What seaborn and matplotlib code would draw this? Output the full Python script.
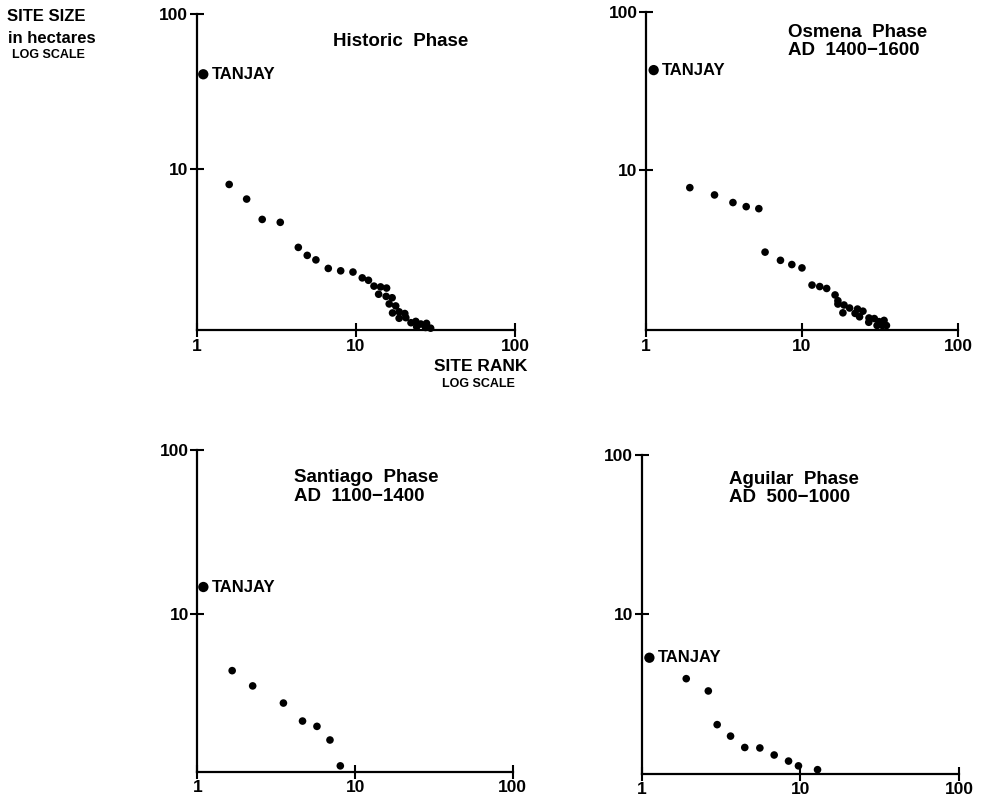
import numpy as np
import pandas as pd
import matplotlib
matplotlib.use("Agg")
import matplotlib.pyplot as plt
import seaborn as sns

# rank-size values (site rank, site size in ha)
hist_rank = [1.60, 2.06, 2.58, 3.35, 4.35, 4.95, 5.61, 6.71, 8.03, 9.59, 10.97,
             12.0, 13.0, 14.3, 15.6, 13.9, 15.5, 16.9, 16.2, 17.8, 17.0, 18.7,
             20.3, 18.7, 20.6, 22.2, 23.8, 25.6, 27.8, 24.1, 27.4, 29.5]
hist_size = [7.97, 6.42, 4.75, 4.55, 3.14, 2.79, 2.61, 2.30, 2.22, 2.18, 2.00,
             1.93, 1.77, 1.75, 1.72, 1.57, 1.52, 1.49, 1.36, 1.32, 1.19, 1.21,
             1.18, 1.10, 1.11, 1.03, 1.05, 1.01, 1.02, 0.97, 0.96, 0.95]

osm_rank = [1.91, 2.75, 3.61, 4.39, 5.29, 5.80, 7.28, 8.61, 10.0, 11.6, 13.0,
            14.4, 16.3, 17.0, 17.0, 18.6, 20.2, 18.3, 22.7, 21.9, 24.6, 23.4,
            26.9, 26.8, 29.1, 31.2, 33.6, 30.3, 32.8, 34.8]
osm_size = [7.72, 6.94, 6.21, 5.85, 5.68, 3.01, 2.67, 2.51, 2.39, 1.86, 1.82,
            1.77, 1.61, 1.48, 1.41, 1.39, 1.33, 1.24, 1.31, 1.23, 1.27, 1.17,
            1.15, 1.08, 1.14, 1.09, 1.11, 1.03, 1.03, 1.03]

sant_rank = [1.66, 2.24, 3.51, 4.64, 5.73, 6.93, 8.06]
sant_size = [4.52, 3.65, 2.87, 2.23, 2.07, 1.71, 1.19]

agu_rank = [1.91, 2.63, 2.99, 3.63, 4.46, 5.55, 6.83, 8.41, 9.71, 12.8]
agu_size = [3.94, 3.30, 2.03, 1.72, 1.46, 1.45, 1.31, 1.20, 1.12, 1.06]

# the primate centre, rank 1 (drawn just off the axis)
tanjay_rank = [1.10, 1.12, 1.09, 1.12]
tanjay_size = [40.7, 43.0, 14.6, 5.33]

titles = ["Historic  Phase", "Osmena  Phase\nAD  1400\u22121600",
          "Santiago  Phase\nAD  1100\u22121400", "Aguilar  Phase\nAD  500\u22121000"]

sns.set_style("ticks")
plt.rcParams["font.family"] = ["Liberation Sans", "DejaVu Sans"]
plt.rcParams["font.weight"] = "bold"
for key in ["text.color", "axes.labelcolor", "xtick.color", "ytick.color",
            "axes.edgecolor"]:
    plt.rcParams[key] = "black"

fig = plt.figure(figsize=(9.81, 7.96), dpi=100)

# axes boxes, title spots and lower y limit for each panel
rects = [[0.2005, 0.585, 0.3245, 0.398],
         [0.6585, 0.585, 0.3180, 0.3995],
         [0.2013, 0.030, 0.3213, 0.405],
         [0.6540, 0.028, 0.3240, 0.401]]
ybottom = [0.92, 0.96, 1.09, 1.0]
title_xy = [(0.642, 0.937), (0.456, 0.964), (0.307, 0.939), (0.276, 0.949)]
title_ha = ["center", "left", "left", "left"]

panels = [(hist_rank, hist_size), (osm_rank, osm_size),
          (sant_rank, sant_size), (agu_rank, agu_size)]

for i, (rank, size) in enumerate(panels):
    ax = fig.add_axes(rects[i])
    df = pd.DataFrame({"rank": rank, "size": size})
    sns.scatterplot(data=df, x="rank", y="size", ax=ax, color="black",
                    s=30, edgecolor="none", clip_on=False, zorder=3)
    tj = pd.DataFrame({"rank": [tanjay_rank[i]], "size": [tanjay_size[i]]})
    sns.scatterplot(data=tj, x="rank", y="size", ax=ax, color="black",
                    s=55, edgecolor="none", clip_on=False, zorder=3)
    ax.annotate("TANJAY", (tanjay_rank[i], tanjay_size[i]), xytext=(6, 0),
                textcoords="offset points", va="center", ha="left",
                fontsize=12, fontweight="bold")

    ax.set_xscale("log")
    ax.set_yscale("log")
    ax.set_xlim(1, 100)
    ax.set_ylim(ybottom[i], 100)
    ax.set_xticks([1, 10, 100])
    ax.set_xticklabels(["1", "10", "100"])
    ax.set_yticks([10, 100])
    ax.set_yticklabels(["10", "100"])
    ax.minorticks_off()
    ax.tick_params(direction="inout", length=10, width=1.5, labelsize=12.5,
                   pad=1, bottom=True, left=True)
    for lab in ax.get_xticklabels() + ax.get_yticklabels():
        lab.set_fontweight("bold")
    sns.despine(ax=ax)
    ax.spines["left"].set_linewidth(1.6)
    ax.spines["bottom"].set_linewidth(1.6)
    ax.set_xlabel("")
    ax.set_ylabel("")

    ax.text(title_xy[i][0], title_xy[i][1], titles[i], transform=ax.transAxes,
            ha=title_ha[i], va="top", fontsize=13.5, fontweight="bold",
            linespacing=1.1)

# shared axis captions
fig.text(0.007, 0.979, "SITE SIZE", fontsize=12, fontweight="bold", va="center")
fig.text(0.008, 0.952, "in hectares", fontsize=12, fontweight="bold", va="center")
fig.text(0.012, 0.931, "LOG SCALE", fontsize=9, fontweight="bold", va="center")
fig.text(0.4895, 0.539, "SITE RANK", fontsize=12.5, fontweight="bold",
         va="center", ha="center")
fig.text(0.4875, 0.518, "LOG SCALE", fontsize=9, fontweight="bold",
         va="center", ha="center")

plt.savefig("out.png", dpi=100)
